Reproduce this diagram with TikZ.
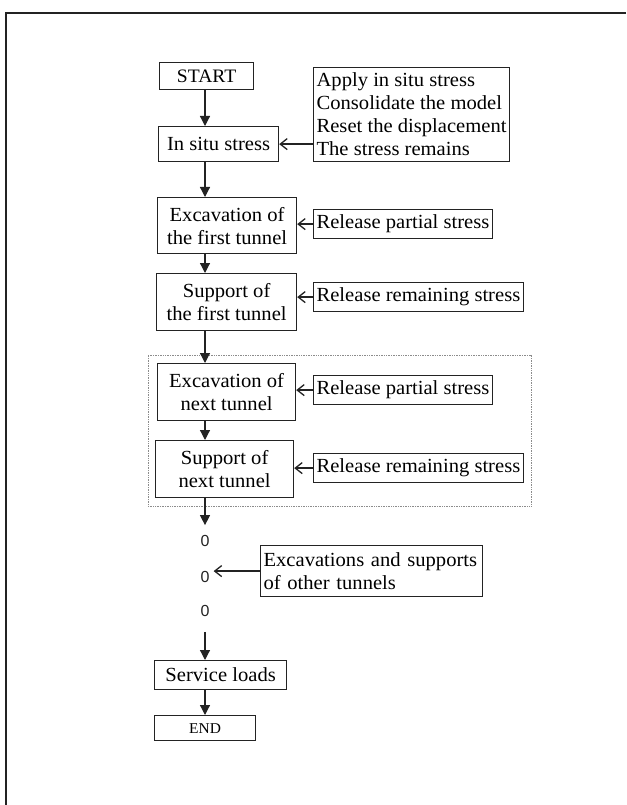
\documentclass[tikz,border=0pt]{standalone}
\usepackage{fontspec}
\setmainfont{Liberation Serif}[FakeStretch=1.03]
\setsansfont{Liberation Sans}
\usepackage{tikz}
\usetikzlibrary{positioning,arrows.meta,fit,backgrounds}
\definecolor{scanink}{RGB}{35,35,35}
\definecolor{scangray}{RGB}{140,140,140}
\tikzset{
  stepbox/.style={draw=scanink, line width=1.2pt, align=center, inner sep=2pt, anchor=north west, font=\fontsize{20}{23}\selectfont},
  notebox/.style={draw=scanink, line width=1.2pt, align=left, inner xsep=3pt, inner ysep=2pt, anchor=north west, font=\fontsize{20}{23}\selectfont},
  dotmark/.style={font=\sffamily\fontsize{16}{16}\selectfont, inner sep=1pt, text=scanink},
  arr/.style={-{Triangle[length=10pt, width=10pt]}, line width=1.2pt, draw=scanink},
  sidearr/.style={-{Straight Barb[length=7pt, width=11pt]}, line width=1.3pt, draw=scanink},
  loopframe/.style={draw=scangray, densely dotted, line width=0.7pt, inner xsep=7pt, inner ysep=8pt},
}

\begin{document}
\begin{tikzpicture}[x=1pt, y=-1pt]
  \useasboundingbox (0,0) rectangle (626,805);
  \draw[scanink, line width=2pt] (626,13) -- (6,13) -- (6,805);
  \coordinate (axis) at (205,0);

  % main column
  \node[stepbox, minimum width=94pt,  minimum height=27pt, font=\fontsize{19}{22}\selectfont] (start) at (159,62) {START};
  \node[stepbox, minimum width=120pt, minimum height=35pt] (insitu)  at (158,126) {In situ stress};
  \node[stepbox, minimum width=139pt, minimum height=56pt] (exc1)    at (157,197) {Excavation of\\ the first tunnel};
  \node[stepbox, minimum width=140pt, minimum height=57pt] (sup1)    at (156,273) {Support of\\ the first tunnel};
  \node[stepbox, minimum width=138pt, minimum height=57pt] (excN)    at (157,363) {Excavation of\\ next tunnel};
  \node[stepbox, minimum width=138pt, minimum height=57pt] (supN)    at (155,440) {Support of\\ next tunnel};
  \node[dotmark] (dotA) at (205,541) {0};
  \node[dotmark] (dotB) at (205,577) {0};
  \node[dotmark] (dotC) at (205,611) {0};
  \node[stepbox, minimum width=132pt, minimum height=29pt] (service) at (154,660) {Service loads};
  \node[stepbox, minimum width=101pt, minimum height=25pt, font=\fontsize{15}{18}\selectfont] (finish) at (154,715) {END};

  % side notes
  \node[notebox, minimum height=94pt] (note1) at (313,67)
    {Apply in situ stress\\ Consolidate the model\\ Reset the displacement\\ The stress remains};
  \node[notebox, minimum height=29pt] (rel1)  at (313,209) {Release partial stress};
  \node[notebox, minimum height=29pt] (rem1)  at (313,282) {Release remaining stress};
  \node[notebox, minimum height=29pt] (rel2)  at (313,375) {Release partial stress};
  \node[notebox, minimum height=29pt] (rem2)  at (313,453) {Release remaining stress};
  \node[notebox, text width=216pt, minimum height=51pt] (other) at (260,545)
    {Excavations and supports\\ of other tunnels};

  \begin{scope}[on background layer]
    \node[loopframe, fit=(excN)(supN)(rem2)] (loop) {};
  \end{scope}

  \draw[arr] (start.south -| axis) -- (insitu.north -| axis);
  \draw[arr] (insitu.south -| axis) -- (exc1.north -| axis);
  \draw[arr] (exc1.south -| axis) -- (sup1.north -| axis);
  \draw[arr] (sup1.south -| axis) -- (excN.north -| axis);
  \draw[arr] (excN.south -| axis) -- (supN.north -| axis);
  \draw[arr, shorten >=9pt] (supN.south -| axis) -- (dotA.north);
  \draw[arr, shorten <=14pt] (dotC.south) -- (service.north -| axis);
  \draw[arr] (service.south -| axis) -- (finish.north -| axis);

  \draw[sidearr] (note1.west |- insitu.east) -- (insitu.east);
  \draw[sidearr] (rel1.west) -- (rel1.west -| exc1.east);
  \draw[sidearr] (rem1.west) -- (rem1.west -| sup1.east);
  \draw[sidearr] (rel2.west) -- (rel2.west -| excN.east);
  \draw[sidearr] (rem2.west) -- (rem2.west -| supN.east);
  \draw[sidearr, shorten >=3pt] (other.west) -- (other.west -| dotB.east);
\end{tikzpicture}
\end{document}
